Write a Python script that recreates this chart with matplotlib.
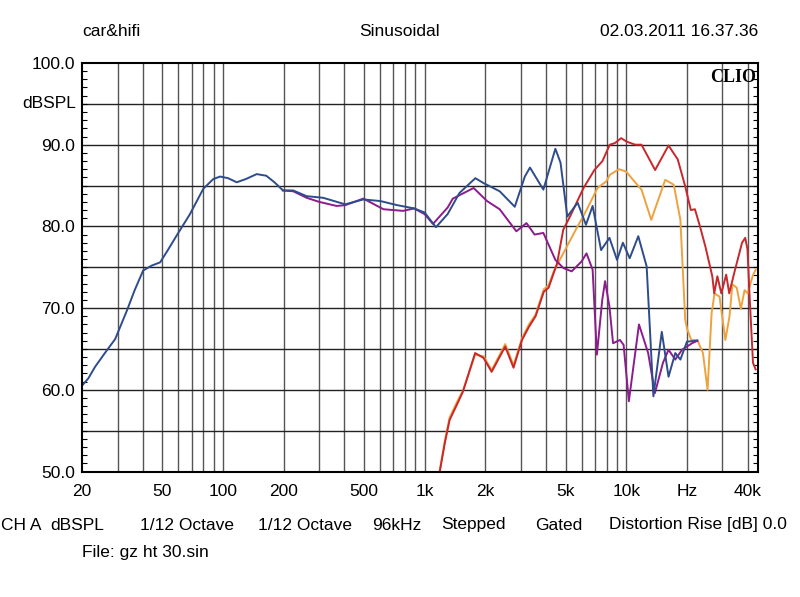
import matplotlib
matplotlib.use("Agg")
import matplotlib.pyplot as plt
from matplotlib.ticker import FixedLocator, MultipleLocator, NullFormatter

plt.rcParams['font.family'] = ['Liberation Sans', 'DejaVu Sans']

# blue trace
blue_f = [20, 21.5, 23.2, 26.5, 29.2, 33.4, 36.5, 40.2, 44.3, 48.8, 53, 59, 68.6, 79.9, 89.6, 96.9,
          106, 117, 130, 147, 164, 180, 198.5, 223, 260, 314, 404, 497, 604, 731, 887, 1000, 1138,
          1300, 1490, 1785, 1960, 2356, 2800, 3140, 3330, 3880, 4450, 4720, 5100,
          5740, 6310, 6810, 7500, 8250, 9000, 9620, 10400, 11470, 12620, 13630,
          15000, 16200, 17500, 18550, 20000, 22500]
blue_db = [60.5, 61.4, 62.8, 64.8, 66.2, 69.7, 72.2, 74.6, 75.2, 75.6, 77.0, 78.9, 81.5, 84.6, 85.8, 86.1,
           85.9, 85.4, 85.8, 86.4, 86.2, 85.4, 84.4, 84.4, 83.7, 83.5, 82.7, 83.3, 83.1, 82.6, 82.2, 81.7, 79.9,
           81.5, 84.1, 85.9, 85.3, 84.3, 82.4, 86.1, 87.2, 84.5, 89.5, 87.8, 81.2,
           82.9, 80.2, 82.5, 77.1, 78.6, 75.9, 78.0, 76.1, 78.8, 75.1, 59.2,
           67.1, 61.6, 64.5, 63.7, 65.9, 66.0]

# purple trace
purple_f = [198, 223, 260, 300, 366, 404, 497, 625, 783, 887, 1000, 1100, 1300, 1380,
            1750, 2040, 2356, 2850, 3200, 3510, 3880, 4450, 4880, 5360, 6000, 6350,
            6810, 7150, 7600, 7850, 8250, 8600, 9300, 9700, 10300, 11560, 12840, 13870,
            15200, 16200, 17500, 18900, 21200, 22500]
purple_db = [84.4, 84.3, 83.5, 83.0, 82.5, 82.6, 83.4, 82.1, 81.9, 82.2, 81.5, 80.3, 82.3, 83.4,
             84.7, 83.1, 82.1, 79.4, 80.4, 79.0, 79.2, 75.9, 74.9, 74.5, 75.7, 76.7,
             74.7, 64.3, 71.0, 73.3, 70.2, 65.7, 66.1, 65.5, 58.6, 68.0, 64.5, 59.6,
             63.3, 64.9, 63.7, 64.9, 65.7, 66.0]

# red trace
red_f = [1150, 1260, 1330, 1460, 1550, 1780, 1960, 2150, 2510, 2760, 3040, 3290, 3550,
         3900, 4120, 4540, 4870, 5260, 6140, 6950, 7620, 8280, 8790, 9430, 10000,
         10500, 11100, 11900, 13900, 16200, 18000, 19600, 20900, 21900, 23200, 24700,
         26700, 27300, 28300, 29600, 31300, 32400, 34300, 36000, 37500, 38900, 39900,
         40900, 42500, 43800]
red_db = [48.0, 53.5, 56.3, 58.4, 59.8, 64.5, 63.9, 62.2, 65.3, 62.7, 66.1, 67.7, 69.0,
          72.0, 72.5, 75.5, 79.6, 81.2, 84.7, 86.9, 88.0, 90.0, 90.2, 90.8, 90.4,
          90.2, 90.0, 90.0, 86.9, 89.9, 88.2, 84.9, 82.0, 82.1, 80.0, 77.5,
          73.9, 71.8, 73.9, 71.8, 74.1, 71.8, 74.3, 76.3, 78.0, 78.6, 77.2,
          71.4, 63.3, 62.5]

# orange trace
orange_f = [1150, 1260, 1330, 1460, 1550, 1780, 1960, 2150, 2510, 2760, 3040, 3290, 3550,
            3900, 4120, 4370, 4870, 5620, 6350, 7200, 7950, 8280, 9200, 10000, 10800,
            11900, 13300, 15600, 17200, 18550, 19600, 20000, 21000, 22500, 24000, 25300,
            26500, 27400, 29000, 31000, 32500, 33600, 35300, 37000, 38600, 40000, 42300,
            43800]
orange_db = [48.0, 53.8, 56.6, 58.7, 59.9, 64.3, 64.1, 62.4, 65.6, 63.0, 66.3, 68.0, 69.2,
             72.3, 72.8, 74.5, 76.7, 79.6, 82.0, 84.7, 85.5, 86.3, 87.0, 86.7, 85.7,
             84.5, 80.8, 85.7, 85.1, 80.8, 68.6, 67.5, 66.1, 66.1, 64.5, 60.0,
             69.4, 71.8, 71.4, 66.1, 69.0, 72.9, 72.5, 69.9, 72.2, 71.8, 73.9,
             74.7]

grid_freqs = [30, 40, 50, 60, 70, 80, 90, 100, 200, 300, 400, 500, 600, 700, 800, 900,
              1000, 2000, 3000, 4000, 5000, 6000, 7000, 8000, 9000, 10000, 20000, 30000, 40000]
xtick_f = [20, 50, 100, 200, 500, 1000, 2000, 5000, 10000, 20000, 40000]
xtick_lbl = ['20', '50', '100', '200', '500', '1k', '2k', '5k', '10k', 'Hz', '40k']
ytick_v = [50, 60, 70, 80, 90, 100]

fs = 12.5

fig = plt.figure(figsize=(8, 5.97), dpi=100)
ax = fig.add_axes([0.1025, 0.2102, 0.845, 0.6843])
ax.set_xscale('log')
ax.set_xlim(20, 45000)
ax.set_ylim(50, 100)

for f in grid_freqs:
    ax.axvline(f, color='#555555', lw=1.0, zorder=1)
for v in range(55, 100, 5):
    ax.axhline(v, color='#222222', lw=1.0, zorder=1)

lw = 1.4
ax.plot(orange_f, orange_db, color='#eea23e', lw=lw, zorder=3)
ax.plot(red_f, red_db, color='#c8282c', lw=lw, zorder=3)
ax.plot(purple_f, purple_db, color='#8c1c8e', lw=lw, zorder=4)
ax.plot(blue_f, blue_db, color='#2e4c8c', lw=lw, zorder=5)

ax.xaxis.set_major_locator(FixedLocator(xtick_f))
ax.xaxis.set_minor_locator(FixedLocator([]))
ax.set_xticklabels(xtick_lbl)
ax.xaxis.set_minor_formatter(NullFormatter())
ax.tick_params(axis='x', which='both', length=0, pad=9, labelsize=fs)

ax.yaxis.set_major_locator(FixedLocator(ytick_v))
ax.set_yticklabels(['%.1f' % v for v in ytick_v])
ax.yaxis.set_minor_locator(MultipleLocator(1))
ax.tick_params(axis='y', which='major', length=0, pad=5, labelsize=fs)
ax.tick_params(axis='y', which='minor', direction='in', length=3.5, width=0.8,
               left=True, right=True)
ax.text(-0.008, 95, 'dBSPL', transform=ax.get_yaxis_transform(), ha='right',
        va='center', fontsize=fs)

for s in ax.spines.values():
    s.set_linewidth(1.5)
    s.set_color('black')
    s.set_zorder(6)

ax.text(0.997, 0.985, 'CLIO', transform=ax.transAxes, ha='right', va='top',
        fontsize=13, fontweight='bold', family='Liberation Serif', zorder=7)

# header row
fig.text(82 / 800, 1 - 31 / 597, 'car&hifi', ha='left', va='center', fontsize=fs)
fig.text(400 / 800, 1 - 31 / 597, 'Sinusoidal', ha='center', va='center', fontsize=fs)
fig.text(758 / 800, 1 - 31 / 597, '02.03.2011 16.37.36', ha='right', va='center', fontsize=fs)

# footer rows
footer = [(1, 'CH A'), (50, 'dBSPL'), (140, '1/12 Octave'), (258, '1/12 Octave'),
          (372, '96kHz'), (441, 'Stepped'), (535, 'Gated'), (609, 'Distortion Rise [dB] 0.0')]
for x, t in footer:
    fig.text(x / 800, 1 - 525 / 597, t, ha='left', va='center', fontsize=fs)
fig.text(82 / 800, 1 - 553 / 597, 'File: gz ht 30.sin', ha='left', va='center', fontsize=fs)

fig.savefig('out.png', dpi=100, facecolor='white')
